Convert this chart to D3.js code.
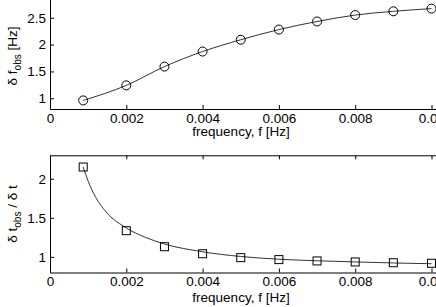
<!DOCTYPE html>
<html lang="en">
<head>
<meta charset="UTF-8" />
<title>Observed spread vs frequency</title>
<script src="https://d3js.org/d3.v7.min.js"></script>
<style>
  body { margin: 0; background: #fff; }
  svg text { font-family: "Liberation Sans", Arial, sans-serif; fill: #000; }
</style>
</head>
<body>
<div id="chart"></div>
<script>
var w = 436;
var h = 307;

// data
var freq = [0.00087, 0.002, 0.003, 0.004, 0.005, 0.006, 0.007, 0.008, 0.009, 0.010];
var dfObs = [0.96, 1.24, 1.59, 1.87, 2.09, 2.28, 2.43, 2.55, 2.62, 2.67];
var dtRatio = [2.15, 1.335, 1.13, 1.04, 0.99, 0.965, 0.948, 0.935, 0.925, 0.918];

// fitted curve in the lower panel
var fitFreq = [0.00087, 0.001, 0.0012, 0.0015, 0.002, 0.0025, 0.003, 0.004, 0.005, 0.006, 0.007, 0.008, 0.009, 0.010];
var fitRatio = [2.15, 1.97, 1.76, 1.56, 1.37, 1.25, 1.165, 1.065, 1.005, 0.97, 0.95, 0.935, 0.922, 0.912];

var xTicks = [0, 0.002, 0.004, 0.006, 0.008, 0.010];
var xTickLabels = ["0", "0.002", "0.004", "0.006", "0.008", "0.01"];
var upperYTicks = [1, 1.5, 2, 2.5];
var lowerYTicks = [1, 1.5, 2];

var svg = d3.select("#chart")
    .append("svg")
    .attr("width", w)
    .attr("height", h);

var left = 50;
var xScale = d3.scaleLinear()
    .domain([0, 0.011])
    .range([left, left + 38.15 * 11]);

function panel(yDomain, yRange, yTicks, labelY) {
    var yScale = d3.scaleLinear().domain(yDomain).range(yRange);
    var g = svg.append("g");

    var xAxis = d3.axisBottom(xScale)
        .tickValues(xTicks)
        .tickFormat(function (d, i) { return xTickLabels[i]; })
        .tickSizeInner(-4)
        .tickSizeOuter(0)
        .tickPadding(4);
    var xTop = d3.axisTop(xScale)
        .tickValues(xTicks)
        .tickFormat("")
        .tickSizeInner(-4)
        .tickSizeOuter(0);
    var yAxis = d3.axisLeft(yScale)
        .tickValues(yTicks)
        .tickFormat(d3.format("~g"))
        .tickSizeInner(-4)
        .tickSizeOuter(0)
        .tickPadding(4);

    g.append("g")
        .attr("transform", "translate(0," + yRange[0] + ")")
        .call(xAxis);
    g.append("g")
        .attr("transform", "translate(0," + yRange[1] + ")")
        .call(xTop);
    g.append("g")
        .attr("transform", "translate(" + left + ",0)")
        .call(yAxis);

    g.selectAll(".tick text").style("font-size", "13.5px").style("fill", "#000");
    g.selectAll(".domain, .tick line").attr("stroke", "#000");

    g.append("text")
        .attr("x", 241)
        .attr("y", labelY)
        .attr("text-anchor", "middle")
        .style("font-size", "13.5px")
        .text("frequency, f [Hz]");
    return { g: g, y: yScale };
}

// upper panel
var upper = panel([0.8, 3.0], [109, -9.1], upperYTicks, 136);
var upperPts = freq.map(function (f, i) { return { f: f, v: dfObs[i] }; });
var upperLine = d3.line()
    .x(function (d) { return xScale(d.f); })
    .y(function (d) { return upper.y(d.v); })
    .curve(d3.curveMonotoneX);
upper.g.append("path")
    .datum(upperPts)
    .attr("fill", "none")
    .attr("stroke", "#333")
    .attr("stroke-width", 1)
    .attr("d", upperLine);
upper.g.selectAll("circle")
    .data(upperPts)
    .enter()
    .append("circle")
    .attr("cx", function (d) { return xScale(d.f); })
    .attr("cy", function (d) { return upper.y(d.v); })
    .attr("r", 4.5)
    .attr("fill", "none")
    .attr("stroke", "#000");

var ylab1 = svg.append("text")
    .attr("transform", "translate(17,56) rotate(-90)")
    .attr("text-anchor", "middle")
    .style("font-size", "13.5px");
ylab1.append("tspan").text("δ f");
ylab1.append("tspan").attr("dy", 4).style("font-size", "10px").text("obs");
ylab1.append("tspan").attr("dy", -4).text(" [Hz]");

// lower panel
var lower = panel([0.8, 2.3], [272.5, 155.3], lowerYTicks, 302);
var lowerPts = freq.map(function (f, i) { return { f: f, v: dtRatio[i] }; });
var fitPts = fitFreq.map(function (f, i) { return { f: f, v: fitRatio[i] }; });
var lowerLine = d3.line()
    .x(function (d) { return xScale(d.f); })
    .y(function (d) { return lower.y(d.v); })
    .curve(d3.curveMonotoneX);
lower.g.append("path")
    .datum(fitPts)
    .attr("fill", "none")
    .attr("stroke", "#333")
    .attr("stroke-width", 1)
    .attr("d", lowerLine);
lower.g.selectAll("rect.pt")
    .data(lowerPts)
    .enter()
    .append("rect")
    .attr("class", "pt")
    .attr("x", function (d) { return xScale(d.f) - 4; })
    .attr("y", function (d) { return lower.y(d.v) - 4; })
    .attr("width", 8)
    .attr("height", 8)
    .attr("fill", "none")
    .attr("stroke", "#000");

var ylab2 = svg.append("text")
    .attr("transform", "translate(17,214) rotate(-90)")
    .attr("text-anchor", "middle")
    .style("font-size", "13.5px");
ylab2.append("tspan").text("δ t");
ylab2.append("tspan").attr("dy", 4).style("font-size", "10px").text("obs");
ylab2.append("tspan").attr("dy", -4).text(" / δ t");
</script>
</body>
</html>
